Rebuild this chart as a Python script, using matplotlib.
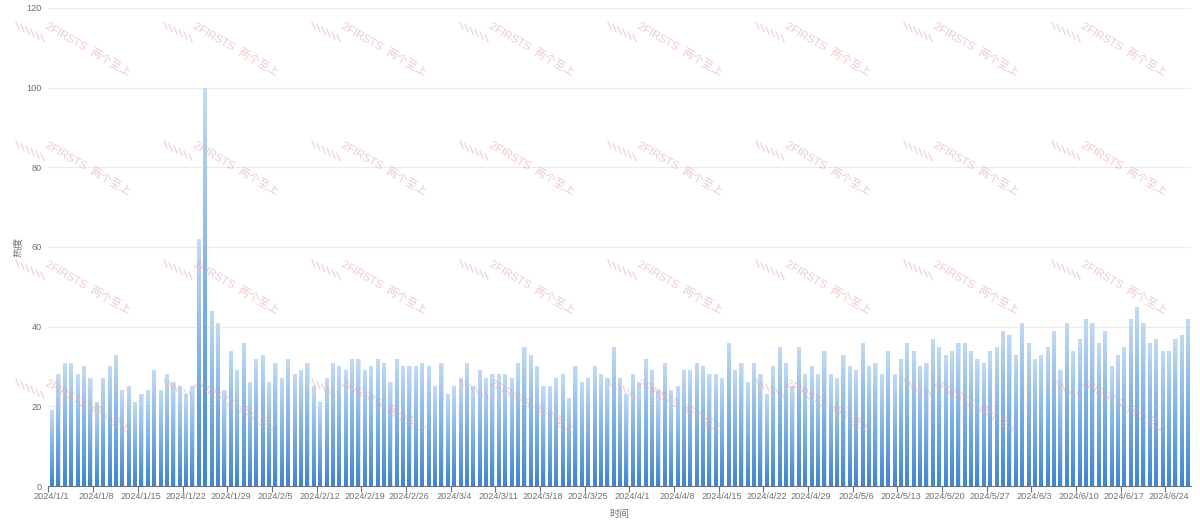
import numpy as np
import pandas as pd
import matplotlib

matplotlib.use("Agg")
import matplotlib.pyplot as plt
from matplotlib.colors import LinearSegmentedColormap

plt.rcParams["font.family"] = ["Liberation Sans", "Noto Sans CJK SC", "DejaVu Sans"]

# daily heat values, 2024/1/1 .. 2024/6/27
heat = [
    19, 28, 31, 31, 28, 30, 27, 21, 27, 30, 33, 24, 25, 21, 23, 24, 29, 24, 28, 26,
    25, 23, 25, 62, 100, 44, 41, 24, 34, 29, 36, 26, 32, 33, 26, 31, 27, 32, 28, 29,
    31, 25, 21, 27, 31, 30, 29, 32, 32, 29, 30, 32, 31, 26, 32, 30, 30, 30, 31, 30,
    25, 31, 23, 25, 27, 31, 25, 29, 27, 28, 28, 28, 27, 31, 35, 33, 30, 25, 25, 27,
    28, 22, 30, 26, 27, 30, 28, 27, 35, 27, 23, 28, 26, 32, 29, 24, 31, 24, 25, 29,
    29, 31, 30, 28, 28, 27, 36, 29, 31, 26, 31, 28, 23, 30, 35, 31, 25, 35, 28, 30,
    28, 34, 28, 27, 33, 30, 29, 36, 30, 31, 28, 34, 28, 32, 36, 34, 30, 31, 37, 35,
    33, 34, 36, 36, 34, 32, 31, 34, 35, 39, 38, 33, 41, 36, 32, 33, 35, 39, 29, 41,
    34, 37, 42, 41, 36, 39, 30, 33, 35, 42, 45, 41, 36, 37, 34, 34, 37, 38, 42,
]
dates = pd.date_range("2024-01-01", periods=len(heat), freq="D")
date_labels = [f"{d.year}/{d.month}/{d.day}" for d in dates]
y_ticks = [0, 20, 40, 60, 80, 100, 120]

label_color = "#6e7079"
grid_color = "#ececec"

fig = plt.figure(figsize=(12, 5.3), dpi=100)
ax = fig.add_axes([0.0404, 0.083, 0.952, 0.902])

x = np.arange(len(heat))
bars = ax.bar(x, heat, width=0.5, color="none", edgecolor="#d3e3f4",
              linewidth=0.6, zorder=2)

# vertical gradient inside every bar (light at top, deeper blue at bottom)
cmap = LinearSegmentedColormap.from_list("bar", ["#3f86d0", "#7fb2e5", "#c3dbf3"])
grad = np.linspace(0, 1, 64).reshape(-1, 1)
for b in bars:
    x0, w, h = b.get_x(), b.get_width(), b.get_height()
    im = ax.imshow(grad, cmap=cmap, aspect="auto", origin="lower",
                   extent=[x0, x0 + w, 0, h], zorder=2.5)
    im.set_clip_path(b)

ax.set_xlim(-0.5, len(heat) - 0.5)
ax.set_ylim(0, 120)

ax.set_yticks(y_ticks)
ax.tick_params(axis="y", length=0, labelsize=6.6, labelcolor=label_color, pad=5)
ax.yaxis.grid(True, color=grid_color, linewidth=0.8, zorder=0)

label_idx = list(range(0, len(heat), 7))
ax.set_xticks(label_idx)
ax.set_xticklabels([date_labels[i] for i in label_idx])
ax.tick_params(axis="x", length=0, labelsize=6.6, labelcolor=label_color, pad=4)
ax.set_xticks([i - 0.5 for i in label_idx], minor=True)
ax.tick_params(axis="x", which="minor", length=4, color=label_color, width=0.8)

for side in ["top", "right", "left"]:
    ax.spines[side].set_visible(False)
ax.spines["bottom"].set_color(label_color)
ax.spines["bottom"].set_linewidth(0.8)
ax.set_axisbelow(True)

ax.set_xlabel("时间", fontsize=7.2, color=label_color, labelpad=6)
ax.set_ylabel("热度", fontsize=7.2, color=label_color, labelpad=2)

# watermark overlay (only the copies that fit fully inside the picture)
wm_color = "#e3a3a3"
for j in range(4):
    for k in range(8):
        cx = 88 + 148 * k
        cy = 50 + 119 * j
        fig.text(cx / 1200, 1 - cy / 530, "2FIRSTS  两个至上", rotation=-30,
                 rotation_mode="anchor", ha="center", va="center", fontsize=8,
                 color=wm_color, alpha=0.55, zorder=10)
        lx, ly = cx - 72, cy - 28
        for s in range(6):
            xs = (lx + s * 5) / 1200
            y_top = 1 - (ly + s * 2.5) / 530
            fig.add_artist(plt.Line2D([xs, xs + 3 / 1200], [y_top, y_top - 7 / 530],
                                      color=wm_color, alpha=0.45, linewidth=1,
                                      zorder=10))

fig.savefig("out.png", dpi=100)
